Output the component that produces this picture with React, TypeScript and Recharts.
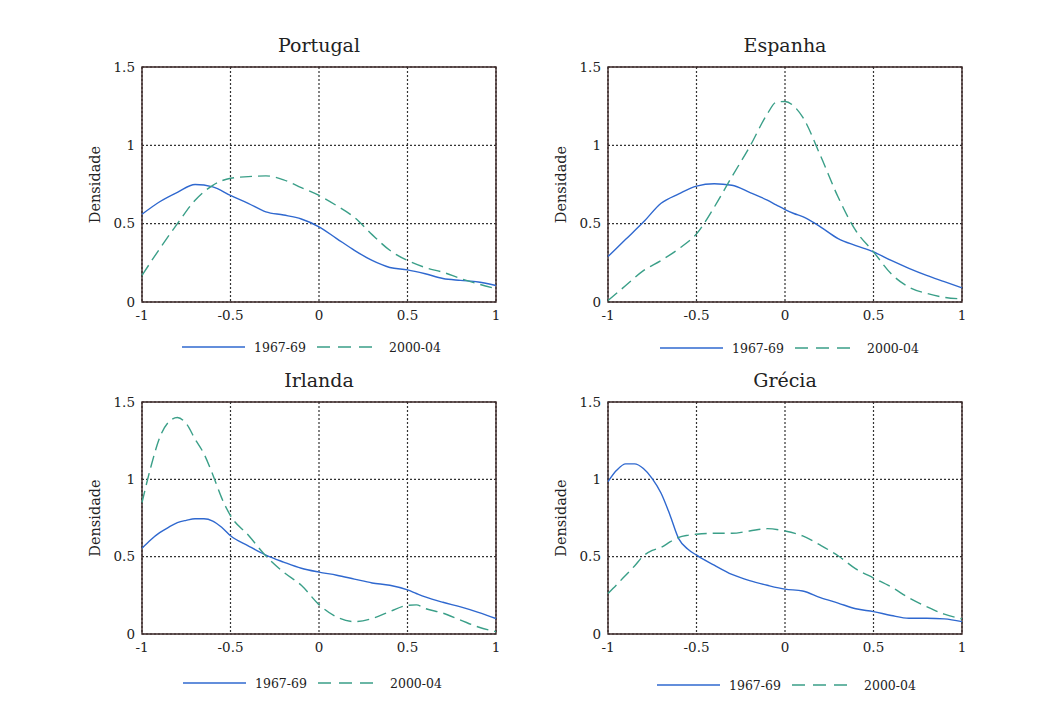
import {
  CartesianGrid,
  Legend,
  Line,
  LineChart,
  ReferenceArea,
  XAxis,
  YAxis,
} from 'recharts'

// eixos partilhados por todos os painéis
const X_TICKS = [-1, -0.5, 0, 0.5, 1]
const Y_TICKS = [0, 0.5, 1, 1.5]
const SERIES_NAMES = ['1967-69', '2000-04']

// Portugal
const PT_X = [-1, -0.9, -0.8, -0.7, -0.6, -0.5, -0.4, -0.3, -0.2, -0.1, 0, 0.1, 0.2, 0.3, 0.4, 0.5, 0.6, 0.7, 0.8, 0.9, 1]
const PT_1967 = [0.56, 0.64, 0.7, 0.75, 0.735, 0.68, 0.63, 0.575, 0.555, 0.53, 0.48, 0.405, 0.33, 0.265, 0.22, 0.205, 0.18, 0.15, 0.138, 0.128, 0.105]
const PT_2000 = [0.17, 0.34, 0.5, 0.65, 0.745, 0.79, 0.8, 0.805, 0.78, 0.73, 0.68, 0.615, 0.54, 0.43, 0.33, 0.265, 0.22, 0.19, 0.15, 0.115, 0.085]

// Espanha
const ES_X = [-1, -0.9, -0.8, -0.7, -0.6, -0.5, -0.4, -0.3, -0.2, -0.1, -0.05, 0, 0.05, 0.1, 0.2, 0.3, 0.4, 0.5, 0.6, 0.7, 0.8, 0.9, 1]
const ES_1967 = [0.29, 0.4, 0.51, 0.63, 0.69, 0.74, 0.755, 0.745, 0.7, 0.65, 0.62, 0.59, 0.565, 0.545, 0.48, 0.405, 0.36, 0.32, 0.265, 0.215, 0.17, 0.13, 0.09]
const ES_2000 = [0.01, 0.105, 0.2, 0.265, 0.34, 0.435, 0.605, 0.8, 0.99, 1.2, 1.275, 1.28, 1.25, 1.18, 0.935, 0.67, 0.455, 0.32, 0.18, 0.095, 0.055, 0.03, 0.02]

// Irlanda
const IE_X = [-1, -0.95, -0.9, -0.85, -0.8, -0.75, -0.7, -0.65, -0.6, -0.55, -0.5, -0.4, -0.3, -0.2, -0.1, 0, 0.1, 0.2, 0.3, 0.4, 0.5, 0.55, 0.6, 0.7, 0.8, 0.9, 1]
const IE_1967 = [0.555, 0.61, 0.655, 0.69, 0.72, 0.735, 0.745, 0.745, 0.73, 0.69, 0.635, 0.57, 0.51, 0.465, 0.425, 0.4, 0.38, 0.355, 0.33, 0.315, 0.285, 0.262, 0.24, 0.205, 0.175, 0.14, 0.1]
const IE_2000 = [0.85, 1.08, 1.27, 1.37, 1.4, 1.36, 1.26, 1.165, 1.03, 0.88, 0.765, 0.64, 0.505, 0.4, 0.315, 0.19, 0.11, 0.08, 0.1, 0.145, 0.185, 0.188, 0.165, 0.135, 0.09, 0.045, 0.015]

// Grécia
const GR_X = [-1, -0.95, -0.9, -0.85, -0.8, -0.75, -0.7, -0.65, -0.6, -0.55, -0.5, -0.4, -0.3, -0.2, -0.1, 0, 0.1, 0.2, 0.3, 0.4, 0.5, 0.6, 0.7, 0.8, 0.9, 1]
const GR_1967 = [0.985, 1.06, 1.1, 1.1, 1.07, 1.005, 0.91, 0.77, 0.615, 0.55, 0.51, 0.445, 0.385, 0.345, 0.315, 0.29, 0.278, 0.235, 0.2, 0.163, 0.145, 0.12, 0.102, 0.102, 0.098, 0.08]
const GR_2000 = [0.262, 0.32, 0.38, 0.44, 0.505, 0.54, 0.56, 0.595, 0.625, 0.638, 0.645, 0.651, 0.651, 0.666, 0.681, 0.666, 0.634, 0.574, 0.506, 0.421, 0.362, 0.304, 0.234, 0.177, 0.128, 0.098]

const BLUE = '#2f68cf'
const GREEN = '#3a9f88'
const FRAME = '#3a2626'
const GRID = '#333'
const INK = '#222'
const FONT = '"DejaVu Serif", serif'

type Row = { x: number; a: number; b: number }

function toRows(xs: number[], a: number[], b: number[]): Row[] {
  return xs.map((x, i) => ({ x, a: a[i], b: b[i] }))
}

interface PanelSpec {
  title: string
  rows: Row[]
  left: number // borda esquerda da área do gráfico
  top: number
  pw: number
  ph: number
  xAxisH: number
  legendDx: number
}

const PANELS: PanelSpec[] = [
  { title: 'Portugal', rows: toRows(PT_X, PT_1967, PT_2000), left: 142, top: 67, pw: 354, ph: 235, xAxisH: 33, legendDx: -7 },
  { title: 'Espanha', rows: toRows(ES_X, ES_1967, ES_2000), left: 608, top: 67, pw: 354, ph: 235, xAxisH: 34, legendDx: 5 },
  { title: 'Irlanda', rows: toRows(IE_X, IE_1967, IE_2000), left: 142, top: 402, pw: 354, ph: 232, xAxisH: 37, legendDx: -6 },
  { title: 'Grécia', rows: toRows(GR_X, GR_1967, GR_2000), left: 608, top: 402, pw: 354, ph: 232, xAxisH: 39, legendDx: 2 },
]

const Y_AXIS_W = 94
const MARGIN_TOP = 10
const MARGIN_RIGHT = 10
const LEGEND_H = 24

function LegendBox({ payload, width, dx }: { payload?: any[]; width: number; dx: number }) {
  const items = payload ?? []
  const x0 = width / 2 + dx - 130
  const cy = LEGEND_H / 2
  return (
    <svg width={width} height={LEGEND_H} style={{ display: 'block' }}>
      {items.map((it, i) => {
        const lx = x0 + i * 135
        return (
          <g key={String(it.value)}>
            <line
              x1={lx}
              x2={lx + 63}
              y1={cy}
              y2={cy}
              stroke={it.color}
              strokeWidth={1.4}
              strokeDasharray={i === 1 ? '13 8' : undefined}
            />
            <text x={lx + 72} y={cy + 4.5} fontSize={12.5} fontFamily={FONT} fill={INK}>
              {it.value}
            </text>
          </g>
        )
      })}
    </svg>
  )
}

function Panel({ spec }: { spec: PanelSpec }) {
  const { title, rows, left, top, pw, ph, xAxisH, legendDx } = spec
  const width = Y_AXIS_W + pw + MARGIN_RIGHT
  const height = MARGIN_TOP + ph + xAxisH + LEGEND_H
  return (
    <>
      <div
        style={{
          position: 'absolute',
          left,
          top: top - 32,
          width: pw,
          textAlign: 'center',
          fontFamily: FONT,
          fontSize: 19,
          lineHeight: '20px',
          color: INK,
        }}
      >
        {title}
      </div>
      <div style={{ position: 'absolute', left: left - Y_AXIS_W, top: top - MARGIN_TOP }}>
        <LineChart
          width={width}
          height={height}
          data={rows}
          margin={{ top: MARGIN_TOP, right: MARGIN_RIGHT, bottom: 0, left: 0 }}
        >
          <CartesianGrid strokeDasharray="2 2" stroke={GRID} strokeWidth={1.2} />
          <XAxis
            dataKey="x"
            type="number"
            domain={[-1, 1]}
            ticks={X_TICKS}
            height={xAxisH}
            axisLine={false}
            tickLine={false}
            tickSize={0}
            tickMargin={8}
            tick={{ fontSize: 13.5, fill: INK, fontFamily: FONT }}
          />
          <YAxis
            type="number"
            domain={[0, 1.5]}
            ticks={Y_TICKS}
            width={Y_AXIS_W}
            axisLine={false}
            tickLine={false}
            tickSize={0}
            tickMargin={7}
            tick={{ fontSize: 13.5, fill: INK, fontFamily: FONT }}
            label={{
              value: 'Densidade',
              angle: -90,
              position: 'center',
              style: { fontSize: 14.5, fill: INK, fontFamily: FONT },
            }}
          />
          <Line
            type="monotone"
            dataKey="a"
            name={SERIES_NAMES[0]}
            stroke={BLUE}
            strokeWidth={1.4}
            dot={false}
            isAnimationActive={false}
          />
          <Line
            type="monotone"
            dataKey="b"
            name={SERIES_NAMES[1]}
            stroke={GREEN}
            strokeWidth={1.4}
            strokeDasharray="12 6"
            dot={false}
            isAnimationActive={false}
          />
          <ReferenceArea x1={-1} x2={1} y1={0} y2={1.5} fill="none" stroke={FRAME} strokeWidth={1.4} />
          <Legend
            verticalAlign="bottom"
            wrapperStyle={{ left: Y_AXIS_W, width: pw, height: LEGEND_H, bottom: 0 }}
            content={(props: any) => <LegendBox payload={props.payload} width={pw} dx={legendDx} />}
          />
        </LineChart>
      </div>
    </>
  )
}

export default function App() {
  return (
    <div
      style={{
        position: 'absolute',
        left: 0,
        top: 0,
        width: 1047,
        height: 706,
        background: '#fff',
        overflow: 'hidden',
      }}
    >
      {PANELS.map((p) => (
        <Panel key={p.title} spec={p} />
      ))}
    </div>
  )
}
